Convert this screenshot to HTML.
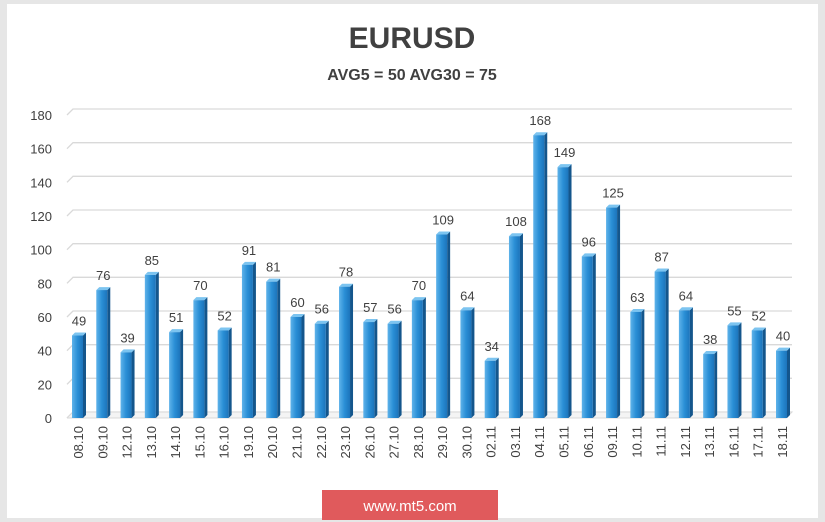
<!DOCTYPE html>
<html><head><meta charset="utf-8"><style>
body{margin:0;width:825px;height:522px;background:#e6e6e6;overflow:hidden;font-family:"Liberation Sans",sans-serif}
#panel{position:absolute;left:7px;top:4px;width:811px;height:514px;background:#fff}
</style></head><body>
<div id="panel"></div>
<svg id="chart" width="825" height="522" style="position:absolute;left:0;top:0">
<defs>
<linearGradient id="g" x1="0" x2="1" y1="0" y2="0">
<stop offset="0" stop-color="#5fb3ea"/><stop offset="0.5" stop-color="#2a8fd6"/><stop offset="1" stop-color="#1c74bb"/></linearGradient>
</defs>
<text x="412" y="48" text-anchor="middle" font-size="30" font-weight="bold" fill="#404040">EURUSD</text>
<text x="412" y="80" text-anchor="middle" font-size="16" font-weight="bold" fill="#404040">AVG5 = 50 AVG30 = 75</text>
<g id="grid"></g><g id="bars"></g><g id="labels"></g>
<rect x="322" y="490" width="176" height="30" fill="#e05a5c"/>
<text x="410" y="511" text-anchor="middle" font-size="15" fill="#fff">www.mt5.com</text>
</svg>
<script>
const categories=["08.10","09.10","12.10","13.10","14.10","15.10","16.10","19.10","20.10","21.10","22.10","23.10","26.10","27.10","28.10","29.10","30.10","02.11","03.11","04.11","05.11","06.11","09.11","10.11","11.11","12.11","13.11","16.11","17.11","18.11"];
const values=[49,76,39,85,51,70,52,91,81,60,56,78,57,56,70,109,64,34,108,168,149,96,125,63,87,64,38,55,52,40];
const yTicks=[0,20,40,60,80,100,120,140,160,180];
const NS="http://www.w3.org/2000/svg";
const y0=418,y180=115,yMax=180;
const y=v=>y0-(y0-y180)*v/yMax;
const x0=78,x1=782;
const x=i=>x0+(x1-x0)*i/(categories.length-1);
function mk(t,a,p){const e=document.createElementNS(NS,t);for(const k in a)e.setAttribute(k,a[k]);document.getElementById(p).appendChild(e);return e;}
yTicks.forEach(v=>{
 const l=mk('polyline',{points:`${67},${y(v)} ${73},${y(v)-6} ${792},${y(v)-6}`,fill:'none',stroke:'#d9d9d9','stroke-width':1.3},'grid');
 
 
 const t=mk('text',{x:52,y:y(v)+5,'text-anchor':'end','font-size':13,fill:'#404040'},'labels');
 t.textContent=v;
 
 
});
mk('polyline',{points:`67,${y0} 73,${y0-6} 792,${y0-6} 786,${y0} 67,${y0}`,fill:'#f4f4f4',stroke:'#d9d9d9'},'grid');
values.forEach((v,i)=>{
 const cx=x(i),top=y(v);
 const side=mk('polygon',{points:`${cx+5},${top} ${cx+8},${top-3} ${cx+8},${y0-3} ${cx+5},${y0}`,fill:'#14568c'},'bars');
 
 
 const topf=mk('polygon',{points:`${cx-6},${top} ${cx-3},${top-3} ${cx+8},${top-3} ${cx+5},${top}`,fill:'#7cc4f0'},'bars');
 
 
 const r=mk('rect',{x:cx-6,y:top,width:11,height:y0-top,fill:'url(#g)'},'bars');
 
 
 const t=mk('text',{x:cx+1,y:top-10,'text-anchor':'middle','font-size':13,fill:'#404040'},'labels');
 t.textContent=v;
 
 
 const c=mk('text',{x:0,y:0,'text-anchor':'end','font-size':13,fill:'#404040',transform:`translate(${cx+5},426) rotate(-90)`},'labels');
 c.textContent=categories[i];
 
 
});
</script>
</body></html>
